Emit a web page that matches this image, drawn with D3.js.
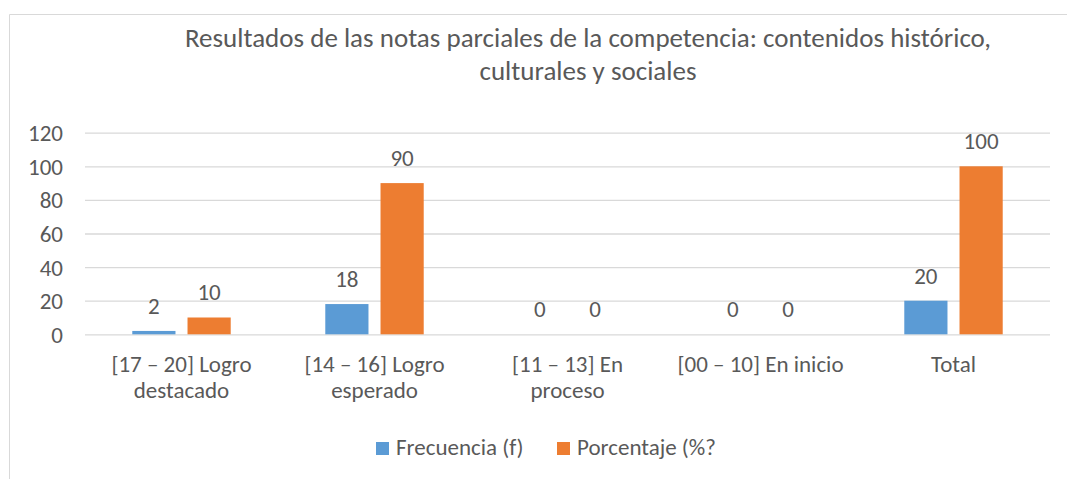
<!DOCTYPE html>
<html>
<head>
<meta charset="utf-8">
<script src="https://cdnjs.cloudflare.com/ajax/libs/d3/7.8.5/d3.min.js"></script>
<style>
  body { margin: 0; background: #fff; }
  svg text { font-family: Carlito, Calibri, Lato, sans-serif; fill: #595959; }
</style>
</head>
<body>
<svg id="chart" width="1067" height="479"></svg>
<script>
// chart data
const titleLines = ["Resultados de las notas parciales de la competencia: contenidos histórico,", "culturales y sociales"];
const categoryLines = [
    ["[17 – 20] Logro", "destacado"],
    ["[14 – 16] Logro", "esperado"],
    ["[11 – 13] En", "proceso"],
    ["[00 – 10] En inicio"],
    ["Total"]
];
const categories = categoryLines.map(l => l.join(" "));
const seriesNames = ["Frecuencia (f)", "Porcentaje (%?"];
const frecuencia = [2, 18, 0, 0, 20];
const porcentaje = [10, 90, 0, 0, 100];
const yTicks = [0, 20, 40, 60, 80, 100, 120];
const colors = ["#5b9bd5", "#ed7d31"];

let svg = d3.select("#chart");
let margin = {top: 132.7, left: 85, right: 17, bottom: 144.7};
let width = 1067 - margin.left - margin.right;
let height = 479 - margin.top - margin.bottom;

// outer chart border (cropped on right/bottom)
svg.append("path")
    .attr("d", "M9.5,479 V14.5 H1067")
    .attr("fill", "none")
    .attr("stroke", "#d9d9d9");

// title
svg.append("text")
    .attr("text-anchor", "middle")
    .style("font-size", "27px")
    .selectAll("tspan")
    .data(titleLines)
    .join("tspan")
    .attr("x", 588)
    .attr("y", (d, i) => 47 + i * 33)
    .text(d => d);

let g = svg.append("g")
    .attr("transform", `translate(${margin.left},${margin.top})`);

let x = d3.scaleBand()
    .domain(categories)
    .range([0, width])
    .paddingInner(0.49)
    .paddingOuter(0.245);

let xs = d3.scaleBand()
    .domain(seriesNames)
    .range([0, x.bandwidth()])
    .paddingInner(0.218);

let y = d3.scaleLinear()
    .domain([0, 120])
    .range([height, 0]);

// gridlines + y labels
let yAxis = g.append("g")
    .call(d3.axisLeft(y).tickValues(yTicks).tickSize(-width).tickPadding(22));
yAxis.attr("font-family", null).attr("font-size", null);
yAxis.select(".domain").remove();
yAxis.selectAll(".tick line").attr("stroke", "#d9d9d9").attr("stroke-width", 1.3);
yAxis.selectAll(".tick text")
    .style("font-size", "23px")
    .attr("dy", "0.35em")
    .attr("fill", "#595959");

// bars
let rows = categories.map((c, i) => ({cat: c, values: [frecuencia[i], porcentaje[i]]}));

let groups = g.selectAll(".grp")
    .data(rows)
    .join("g")
    .attr("class", "grp")
    .attr("transform", d => `translate(${x(d.cat)},0)`);

groups.selectAll("rect")
    .data(d => d.values.map((v, j) => ({s: seriesNames[j], v: v, j: j})))
    .join("rect")
    .attr("x", d => xs(d.s))
    .attr("width", xs.bandwidth())
    .attr("y", d => y(d.v))
    .attr("height", d => height - y(d.v))
    .attr("fill", d => colors[d.j]);

groups.selectAll(".val")
    .data(d => d.values.map((v, j) => ({s: seriesNames[j], v: v})))
    .join("text")
    .attr("class", "val")
    .attr("x", d => xs(d.s) + xs.bandwidth() / 2)
    .attr("y", d => y(d.v) - 17)
    .attr("text-anchor", "middle")
    .style("font-size", "23px")
    .text(d => d.v);

// category labels
let xLab = g.selectAll(".xlab")
    .data(categoryLines)
    .join("text")
    .attr("class", "xlab")
    .attr("text-anchor", "middle")
    .style("font-size", "23px");
xLab.selectAll("tspan")
    .data((d, i) => d.map(t => ({t: t, c: categories[i]})))
    .join("tspan")
    .attr("x", d => x(d.c) + x.bandwidth() / 2)
    .attr("y", (d, k) => height + 38 + k * 26)
    .text(d => d.t);

// legend
let legend = svg.append("g");
let legendX = [376, 557];
seriesNames.forEach((s, i) => {
    legend.append("rect")
        .attr("x", legendX[i])
        .attr("y", 442)
        .attr("width", 13)
        .attr("height", 13)
        .attr("fill", colors[i]);
    legend.append("text")
        .attr("x", legendX[i] + 20)
        .attr("y", 455)
        .style("font-size", "23px")
        .text(s);
});
</script>
</body>
</html>
